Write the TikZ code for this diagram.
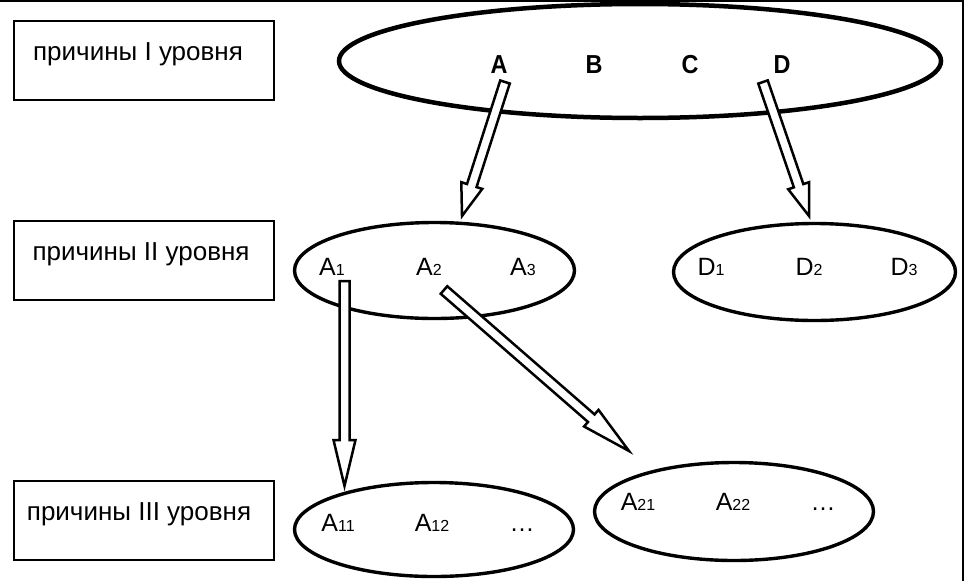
\documentclass[tikz,border=0pt]{standalone}
\usepackage{fontspec}
\setmainfont{Liberation Sans}
\usetikzlibrary{calc,shapes.geometric}
\newcommand\sbs[1]{{\fontsize{16}{16}\selectfont #1}}
\newcommand\nrw[1]{\scalebox{0.9}[1]{#1}}
\newcommand\blockarrow[3]{%
  \path (#1) coordinate (ba s) (#2) coordinate (ba t);
  \path ($(ba t)!#3!(ba s)$) coordinate (ba h);
  \draw[barrow] ($(ba s)!5pt!90:(ba t)$) -- ($(ba h)!5pt!-90:(ba s)$) -- ($(ba h)!11pt!-90:(ba s)$) -- (ba t) -- ($(ba h)!11pt!90:(ba s)$) -- ($(ba h)!5pt!90:(ba s)$) -- ($(ba s)!5pt!-90:(ba t)$) -- cycle;
}
\begin{document}
\begin{tikzpicture}[x=1pt,y=-1pt,
  lvlbox/.style={draw, line width=1.8pt, minimum width=260pt, minimum height=79pt, inner sep=0pt},
  boxlbl/.style={inner sep=0pt, font=\fontsize{26}{26}\selectfont},
  oval/.style={draw, ellipse, line width=3.4pt, inner sep=0pt},
  lbl/.style={anchor=base, inner sep=0pt, font=\fontsize{25}{25}\selectfont},
  blbl/.style={anchor=base, inner sep=0pt, font=\bfseries\fontsize{26}{26}\selectfont},
  barrow/.style={draw, fill=white, line width=2.5pt, line join=miter}]
\useasboundingbox (0,0) rectangle (968,581);
\draw[line width=2pt] (0,1) -- (963,1) -- (963,581);

% level boxes
\node[lvlbox] (b1) at (144,60.7) {};
\node[lvlbox] (b2) at (144,260.7) {};
\node[lvlbox] (b3) at (144,520.7) {};
\node[boxlbl] (t1) at ($(b1.center)+(-6,-6)$) {причины I уровня};
\node[boxlbl] (t2) at ($(b2.center)+(-3,-6)$) {причины II уровня};
\node[boxlbl] (t3) at ($(b3.center)+(-5,-6)$) {причины III уровня};

% ellipses
\node[oval, line width=4.5pt, minimum width=602pt, minimum height=114pt] (top) at (640,61) {};
\node[oval, minimum width=280pt, minimum height=96pt] (ea) at (434.5,270.5) {};
\node[oval, minimum width=282pt, minimum height=97pt] (ed) at (814.5,272) {};
\node[oval, minimum width=279pt, minimum height=94pt] (ea1) at (434,529.5) {};
\node[oval, minimum width=279pt, minimum height=98pt] (ea2) at (734,511.5) {};

% labels
\node[blbl] (A) at (499,73) {\nrw{A}};
\node[blbl] (B) at (594,73) {\nrw{B}};
\node[blbl] (C) at (690,73) {\nrw{C}};
\node[blbl] (D) at (782,73) {\nrw{D}};
\node[lbl] (A1) at (332,275) {A\sbs{1}};
\node[lbl] (A2) at (429,275) {A\sbs{2}};
\node[lbl] (A3) at (523,275) {A\sbs{3}};
\node[lbl] (D1) at (711,275) {D\sbs{1}};
\node[lbl] (D2) at (809,275) {D\sbs{2}};
\node[lbl] (D3) at (904,275) {D\sbs{3}};
\node[lbl] (A11) at (338,531) {A\sbs{11}};
\node[lbl] (A12) at (432,531) {A\sbs{12}};
\node[lbl] (A1e) at (522,531) {…};
\node[lbl] (A21) at (638,510) {A\sbs{21}};
\node[lbl] (A22) at (733,510) {A\sbs{22}};
\node[lbl] (A2e) at (823,510) {…};

% arrow ends
\coordinate (sA) at (505,82);
\coordinate (eA) at (462,216);
\coordinate (sD) at (763,82);
\coordinate (eD) at (809,216);
\coordinate (sA1) at (344.5,281);
\coordinate (eA1) at (344.5,486);
\coordinate (sA2) at (444,290);
\coordinate (eA2) at (629,451);

\blockarrow{sA}{eA}{32pt}
\blockarrow{sD}{eD}{32pt}
\blockarrow{sA1}{eA1}{46pt}
\blockarrow{sA2}{eA2}{50pt}
\end{tikzpicture}
\end{document}
